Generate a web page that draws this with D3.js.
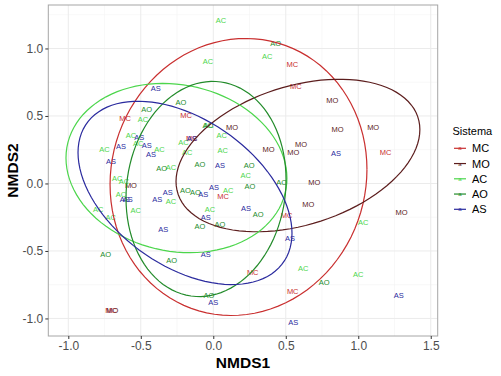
<!DOCTYPE html>
<html>
<head>
<meta charset="utf-8">
<script src="https://cdn.jsdelivr.net/npm/d3@7"></script>
<style>
body { margin: 0; background: #fff; }
text { font-family: "Liberation Sans", Arial, sans-serif; }
</style>
</head>
<body>
<svg id="chart" width="501" height="376"></svg>
<script>
// grupos y colores
var sistemas = ["MC", "MO", "AC", "AO", "AS"];
var colores = ["#c92f2f", "#5c1d1d", "#4cd64c", "#228b2a", "#2a2a9e"];

// coordenadas NMDS
var mcX = [-0.609, -0.188, 0.545, 0.570, 1.189, 0.067, 0.506, 0.272, 0.548, -0.705, -0.148];
var mcY = [0.485, 0.507, 0.883, 0.722, 0.233, -0.098, -0.239, -0.661, -0.801, -0.941, 0.337];
var moX = [0.129, 0.821, 0.858, 1.103, 0.382, 0.605, 0.552, 0.697, 0.655, 1.299, -0.568, -0.697];
var moY = [0.419, 0.619, 0.404, 0.413, 0.256, 0.293, 0.231, 0.009, -0.152, -0.213, -0.011, -0.941];
var acX = [0.053, -0.037, 0.372, -0.485, -0.567, -0.751, -0.372, -0.179, 0.065, -0.292, 0.223, -0.662,
           -0.637, -0.793, -0.708, -0.535, -0.292, 0.103, -0.023, 1.034, 0.620, 0.999, -0.206, 0.058,
           -0.032, -0.518, -0.616];
var acY = [1.211, 0.907, 0.939, 0.478, 0.359, 0.256, 0.256, 0.231, 0.243, 0.120, 0.058, 0.039,
           -0.080, -0.189, -0.252, -0.196, -0.130, -0.048, -0.191, -0.287, -0.628, -0.673, 0.305, 0.356,
           0.433, 0.300, 0.014];
var aoX = [-0.223, -0.459, -0.037, 0.430, -0.092, -0.356, -0.193, -0.124, 0.248, 0.253, 0.310, 0.472,
           -0.092, 0.046, -0.742, -0.287, -0.030, 0.765];
var aoY = [0.604, 0.552, 0.433, 1.036, 0.141, 0.113, -0.048, -0.068, 0.132, -0.024, -0.228, 0.009,
           -0.315, -0.300, -0.524, -0.567, -0.826, -0.735];
var asX = [-0.397, -0.510, -0.637, -0.459, -0.430, -0.705, 0.046, -0.148, -0.610, -0.590, -0.314, -0.386,
           -0.069, 0.005, 0.226, -0.052, -0.345, -0.052, 0.000, 0.529, 0.846, 1.280, 0.552];
var asY = [0.707, 0.344, 0.278, 0.280, 0.219, 0.161, 0.132, 0.337, -0.115, -0.115, -0.065, -0.115,
           -0.080, -0.031, -0.184, -0.253, -0.337, -0.522, -0.883, -0.406, 0.224, -0.826, -1.028];

// elipses: centro, semiancho, semialto y correlacion (orden de sistemas)
var ellCentroX = [0.174, 0.584, -0.254, -0.050, -0.195];
var ellCentroY = [0.048, 0.207, 0.114, -0.041, -0.070];
var ellAncho = [0.886, 0.841, 0.762, 0.552, 0.738];
var ellAlto = [1.026, 0.565, 0.627, 0.797, 0.679];
var ellCorr = [0.055, 0.34, -0.12, 0.085, -0.44];

var xTicks = [-1.0, -0.5, 0.0, 0.5, 1.0, 1.5];
var yTicks = [-1.0, -0.5, 0.0, 0.5, 1.0];

var puntos = [];
[[mcX, mcY], [moX, moY], [acX, acY], [aoX, aoY], [asX, asY]].forEach(function (p, g) {
  p[0].forEach(function (v, i) {
    puntos.push({ grupo: sistemas[g], x: v, y: p[1][i] });
  });
});

var svg = d3.select("#chart");
var pLeft = 48.3, pRight = 437.7, pTop = 5, pBottom = 336;

var x = d3.scaleLinear().domain([-1.138, 1.548]).range([pLeft, pRight]);
var y = d3.scaleLinear().domain([-1.13, 1.322]).range([pBottom, pTop]);
var color = d3.scaleOrdinal().domain(sistemas).range(colores);
var fmt = function (d) { return d.toFixed(1); };

// grilla
var xMinor = [-0.75, -0.25, 0.25, 0.75, 1.25];
var yMinor = [-0.75, -0.25, 0.25, 0.75, 1.25];
var grid = svg.append("g");
grid.selectAll("line.xm").data(xMinor).enter().append("line")
  .attr("x1", x).attr("x2", x).attr("y1", pTop).attr("y2", pBottom)
  .attr("stroke", "#f4f4f4").attr("stroke-width", 0.6);
grid.selectAll("line.ym").data(yMinor).enter().append("line")
  .attr("y1", y).attr("y2", y).attr("x1", pLeft).attr("x2", pRight)
  .attr("stroke", "#f4f4f4").attr("stroke-width", 0.6);
grid.selectAll("line.xM").data(xTicks).enter().append("line")
  .attr("x1", x).attr("x2", x).attr("y1", pTop).attr("y2", pBottom)
  .attr("stroke", "#ebebeb").attr("stroke-width", 1);
grid.selectAll("line.yM").data(yTicks).enter().append("line")
  .attr("y1", y).attr("y2", y).attr("x1", pLeft).attr("x2", pRight)
  .attr("stroke", "#ebebeb").attr("stroke-width", 1);

// etiquetas de puntos
svg.append("g").selectAll("text").data(puntos).enter().append("text")
  .attr("x", function (d) { return x(d.x); })
  .attr("y", function (d) { return y(d.y); })
  .attr("dy", "0.35em")
  .attr("text-anchor", "middle")
  .attr("font-size", 7.5)
  .attr("fill", function (d) { return color(d.grupo); })
  .text(function (d) { return d.grupo; });

// elipses
var linea = d3.line().x(function (d) { return x(d[0]); }).y(function (d) { return y(d[1]); });
var ts = d3.range(0, 101).map(function (i) { return i / 100 * 2 * Math.PI; });
sistemas.forEach(function (s, g) {
  var W = ellAncho[g], H = ellAlto[g], r = ellCorr[g];
  var pts = ts.map(function (t) {
    return [ellCentroX[g] + W * Math.cos(t),
            ellCentroY[g] + r * H * Math.cos(t) + H * Math.sqrt(1 - r * r) * Math.sin(t)];
  });
  svg.append("path").attr("d", linea(pts)).attr("fill", "none")
    .attr("stroke", colores[g]).attr("stroke-width", 1.2);
});

// borde del panel
svg.append("rect").attr("x", pLeft).attr("y", pTop)
  .attr("width", pRight - pLeft).attr("height", pBottom - pTop)
  .attr("fill", "none").attr("stroke", "#a6a6a6").attr("stroke-width", 1);

// ejes
var ax = svg.append("g").attr("transform", "translate(0," + pBottom + ")")
  .call(d3.axisBottom(x).tickValues(xTicks).tickFormat(fmt).tickSize(3).tickPadding(2));
var ay = svg.append("g").attr("transform", "translate(" + pLeft + ",0)")
  .call(d3.axisLeft(y).tickValues(yTicks).tickFormat(fmt).tickSize(3).tickPadding(2));
[ax, ay].forEach(function (a) {
  a.select(".domain").remove();
  a.selectAll(".tick line").attr("stroke", "#333333");
  a.selectAll(".tick text").attr("fill", "#4d4d4d").attr("font-size", 12)
    .style("font-family", "'Liberation Sans', Arial, sans-serif");
});

svg.append("text").attr("x", (pLeft + pRight) / 2).attr("y", 367.5)
  .attr("text-anchor", "middle").attr("font-size", 15.5).attr("font-weight", "bold")
  .text("NMDS1");
svg.append("text").attr("transform", "translate(18," + (pTop + pBottom) / 2 + ") rotate(-90)")
  .attr("text-anchor", "middle").attr("font-size", 15.5).attr("font-weight", "bold")
  .text("NMDS2");

// leyenda
var ley = svg.append("g").attr("transform", "translate(452.5,0)");
ley.append("text").attr("x", 0).attr("y", 135).attr("font-size", 11).text("Sistema");
var item = ley.selectAll("g.item").data(sistemas).enter().append("g")
  .attr("transform", function (d, i) { return "translate(0," + (148.3 + i * 15.25) + ")"; });
item.append("line").attr("x1", 1.5).attr("x2", 13.5).attr("y1", 0).attr("y2", 0)
  .attr("stroke", function (d) { return color(d); }).attr("stroke-width", 1.2);
item.append("text").attr("x", 7.5).attr("y", 0).attr("dy", "0.35em")
  .attr("text-anchor", "middle").attr("font-size", 6)
  .attr("fill", function (d) { return color(d); }).text("a");
item.append("text").attr("x", 19.5).attr("y", 0).attr("dy", "0.36em")
  .attr("font-size", 11).attr("fill", "#000").text(function (d) { return d; });
</script>
</body>
</html>
